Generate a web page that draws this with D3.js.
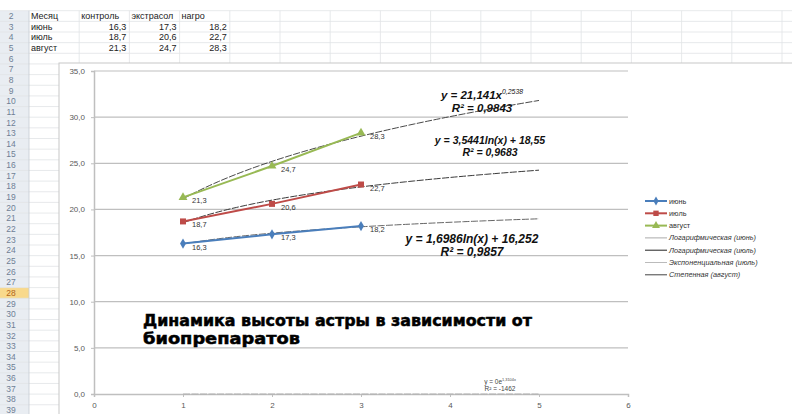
<!DOCTYPE html>
<html>
<head>
<meta charset="utf-8">
<script src="https://cdn.jsdelivr.net/npm/d3@7"></script>
<style>
  body { margin: 0; background: #fff; }
  svg { display: block; }
</style>
</head>
<body>
<div id="svg-container"></div>
<script>
// ---- data ----
const months = ["июнь", "июль", "август"];
const treatments = ["контроль", "экстрасол", "нагро"];
const xValues = [1, 2, 3];
const juneValues = [16.3, 17.3, 18.2];
const julyValues = [18.7, 20.6, 22.7];
const augustValues = [21.3, 24.7, 28.3];
const yTicks = [0, 5, 10, 15, 20, 25, 30, 35];
const xTicks = [0, 1, 2, 3, 4, 5, 6];

// trendlines as excel printed them
const trendNames = ["Логарифмическая (июнь)", "Логарифмическая (июль)", "Экспоненциальная (июль)", "Степенная (август)"];
const trendTypes = ["log", "log", "exp", "power"];
const trendCoefs = [[1.6986, 16.252], [3.5441, 18.55], [0, 1.3104], [21.141, 0.2538]];
const trendRange = [1, 5];
const trendEq = [
  ["y = 1,6986ln(x) + 16,252", ""],
  ["y = 3,5441ln(x) + 18,55", ""],
  ["y = 0e", "1,3104x"],
  ["y = 21,141x", "0,2538"]
];
const trendR2 = ["R² = 0,9857", "R² = 0,9683", "R² = -1462", "R² = 0,9843"];

const title = ["Динамика высоты астры в зависимости от", "биопрепаратов"];

const width = 792;
const height = 414;

const SERIES_COLORS = ["#4a7ebb", "#be4b48", "#98b954"];
const GRID_COLOR = "#bfbfbf";
const CELL_LINE = "#e1e3e6";
const LABEL_COLOR = "#595959";

const ROW_H = 10.65;
const ROW_TOP = 10.7; // top of row 2
const COL_W = 50.2;
const COL_X0 = 29;
const FIRST_ROW = 2, LAST_ROW = 39;
const HIGHLIGHT_ROW = 28;

const svg = d3
  .select("#svg-container")
  .append("svg")
  .attr("width", width)
  .attr("height", height)
  .style("font-family", "'Liberation Sans', Arial, sans-serif");

// ---------- spreadsheet background ----------
const rows = d3.range(FIRST_ROW, LAST_ROW + 1);
const rowY = (n) => ROW_TOP + (n - FIRST_ROW) * ROW_H;
const colX = (i) => COL_X0 + i * COL_W;

const sheet = svg.append("g");

// header column
sheet.append("rect")
  .attr("x", 0).attr("y", ROW_TOP)
  .attr("width", COL_X0).attr("height", height - ROW_TOP)
  .attr("fill", "#e9edf2");

sheet.selectAll("rect.hl")
  .data([HIGHLIGHT_ROW])
  .enter().append("rect")
  .attr("x", 0).attr("y", (d) => rowY(d))
  .attr("width", COL_X0).attr("height", ROW_H)
  .attr("fill", "#f8d98c");

// cell lines
sheet.selectAll("line.row")
  .data(d3.range(FIRST_ROW, LAST_ROW + 2))
  .enter().append("line")
  .attr("x1", 0).attr("x2", width)
  .attr("y1", (d) => rowY(d)).attr("y2", (d) => rowY(d))
  .attr("stroke", CELL_LINE).attr("stroke-width", 0.8);

sheet.selectAll("line.col")
  .data(d3.range(0, 16))
  .enter().append("line")
  .attr("x1", (d) => colX(d)).attr("x2", (d) => colX(d))
  .attr("y1", ROW_TOP).attr("y2", height)
  .attr("stroke", (d) => d === 0 ? "#c5cbd3" : CELL_LINE)
  .attr("stroke-width", 0.8);

sheet.selectAll("text.rownum")
  .data(rows)
  .enter().append("text")
  .attr("x", 11).attr("y", (d) => rowY(d) + ROW_H / 2 + 3)
  .attr("text-anchor", "middle")
  .style("font-size", "8.5px")
  .style("fill", (d) => d === HIGHLIGHT_ROW ? "#b0651c" : "#6f7f95")
  .text((d) => d);

// table cells
const defs = svg.append("defs");
d3.range(0, 4).forEach((i) => {
  defs.append("clipPath").attr("id", "col-clip-" + i)
    .append("rect")
    .attr("x", colX(i)).attr("y", 0)
    .attr("width", COL_W - 1).attr("height", height);
});

const cellText = (row, col, txt, anchor) => {
  sheet.append("text")
    .attr("clip-path", `url(#col-clip-${col})`)
    .attr("x", anchor === "end" ? colX(col + 1) - 3 : colX(col) + 2)
    .attr("y", rowY(row) + ROW_H / 2 + 3)
    .attr("text-anchor", anchor)
    .style("font-size", "9px")
    .style("fill", "#222")
    .text(txt);
};

cellText(2, 0, "Месяц", "start");
treatments.forEach((t, i) => cellText(2, i + 1, t, "start"));
const tableValues = [juneValues, julyValues, augustValues];
months.forEach((m, r) => {
  cellText(3 + r, 0, m, "start");
  tableValues[r].forEach((v, c) => cellText(3 + r, c + 1, d3.format(".1f")(v).replace(".", ","), "end"));
});

// ---------- chart object ----------
const chart = svg.append("g");
chart.append("rect")
  .attr("x", 59).attr("y", 63)
  .attr("width", 760).attr("height", 380)
  .attr("fill", "#fff")
  .attr("stroke", "#c8c8c8").attr("stroke-width", 1);

const xScale = d3.scaleLinear().domain([0, 6]).range([94, 628]);
const yScale = d3.scaleLinear().domain([0, 35]).range([394, 71]);
const comma = (v) => d3.format(".1f")(v).replace(".", ",");

// gridlines
chart.append("g")
  .selectAll("line")
  .data(yTicks.filter((d) => d > 0))
  .enter().append("line")
  .attr("x1", xScale(0)).attr("x2", xScale(6))
  .attr("y1", (d) => yScale(d)).attr("y2", (d) => yScale(d))
  .attr("stroke", GRID_COLOR).attr("stroke-width", 1.2);

// y axis
const yAxis = chart.append("g")
  .attr("transform", `translate(${xScale(0)},0)`)
  .call(d3.axisLeft(yScale).tickValues(yTicks).tickFormat(comma).tickSize(3).tickPadding(6));
// x axis
const xAxis = chart.append("g")
  .attr("transform", `translate(0,${yScale(0)})`)
  .call(d3.axisBottom(xScale).tickValues(xTicks).tickFormat(d3.format("d")).tickSize(3).tickPadding(5));

[yAxis, xAxis].forEach((ax) => {
  ax.select(".domain").attr("stroke", GRID_COLOR).attr("stroke-width", 1.5);
  ax.selectAll(".tick line").attr("stroke", GRID_COLOR);
  ax.selectAll(".tick text")
    .style("font-size", "8px")
    .style("font-family", "'Liberation Sans', Arial, sans-serif")
    .style("fill", LABEL_COLOR);
});

// title
chart.append("g")
  .selectAll("text")
  .data(title)
  .enter().append("text")
  .attr("x", 143)
  .attr("y", (d, i) => 326 + i * 18)
  .attr("textLength", (d, i) => i === 0 ? 389 : 157)
  .attr("lengthAdjust", "spacingAndGlyphs")
  .style("font-family", "'DejaVu Sans', sans-serif")
  .style("font-weight", "bold")
  .style("font-size", "15px")
  .style("fill", "#000")
  .style("stroke", "#000")
  .style("stroke-width", 0.5)
  .text((d) => d);

// trendlines
const trendFn = (type, c) => {
  if (type === "log") return (x) => c[0] * Math.log(x) + c[1];
  if (type === "exp") return (x) => c[0] * Math.exp(c[1] * x);
  return (x) => c[0] * Math.pow(x, c[1]);
};
const trendLine = d3.line()
  .x((d) => xScale(d[0]))
  .y((d) => yScale(d[1]));
const trendColors = ["#555", "#222", "#aaa", "#333"];

trendTypes.forEach((type, i) => {
  const f = trendFn(type, trendCoefs[i]);
  const pts = d3.range(trendRange[0], trendRange[1] + 0.001, 0.05).map((x) => [x, f(x)]);
  chart.append("path")
    .attr("d", trendLine(pts))
    .attr("fill", "none")
    .attr("stroke", trendColors[i])
    .attr("stroke-width", 0.9)
    .attr("stroke-dasharray", "7,1.5");
});

// series
const seriesValues = [juneValues, julyValues, augustValues];
const seriesLine = d3.line()
  .x((d, i) => xScale(xValues[i]))
  .y((d) => yScale(d));
const symbols = [d3.symbolDiamond, d3.symbolSquare, d3.symbolTriangle];
const symbolSizes = [30, 36, 34];

seriesValues.forEach((vals, s) => {
  const g = chart.append("g");
  g.append("path")
    .attr("d", seriesLine(vals))
    .attr("fill", "none")
    .attr("stroke", SERIES_COLORS[s])
    .attr("stroke-width", 2);
  g.selectAll("path.mark")
    .data(vals)
    .enter().append("path")
    .attr("d", d3.symbol().type(symbols[s]).size(symbolSizes[s]))
    .attr("transform", (d, i) => `translate(${xScale(xValues[i])},${yScale(d)})`)
    .attr("fill", SERIES_COLORS[s]);
  g.selectAll("text")
    .data(vals)
    .enter().append("text")
    .attr("x", (d, i) => xScale(xValues[i]) + 9)
    .attr("y", (d) => yScale(d) + 6)
    .style("font-size", "7.5px")
    .style("fill", "#333")
    .text((d) => comma(d));
});

// trendline equations
const eqPos = [[472, 243, 12], [490, 144, 10.5], [500, 384, 6.5], [482, 99, 11.5]];
trendEq.forEach((eq, i) => {
  const [cx, cy, fs] = eqPos[i];
  const g = chart.append("g")
    .style("font-weight", i === 2 ? "normal" : "bold")
    .style("font-style", i === 2 ? "normal" : "italic")
    .style("fill", i === 2 ? "#444" : "#111");
  const t = g.append("text")
    .attr("x", cx).attr("y", cy)
    .attr("text-anchor", "middle")
    .style("font-size", fs + "px");
  t.append("tspan").text(eq[0]);
  if (eq[1]) {
    t.append("tspan")
      .attr("dy", -fs * 0.4)
      .style("font-size", (fs * 0.6) + "px")
      .style("font-weight", "normal")
      .text(eq[1]);
  }
  g.append("text")
    .attr("x", cx).attr("y", cy + fs * 1.1)
    .attr("text-anchor", "middle")
    .style("font-size", fs + "px")
    .text(trendR2[i]);
});

// legend
const legendItems = months.map((m, i) => ({ name: m, color: SERIES_COLORS[i], symbol: symbols[i], size: symbolSizes[i], trend: false }))
  .concat(trendNames.map((n, i) => ({ name: n, color: ["#aaa", "#222", "#bbb", "#444"][i], trend: true })));

const legend = chart.append("g").attr("transform", "translate(645,201)");
const li = legend.selectAll("g")
  .data(legendItems)
  .enter().append("g")
  .attr("transform", (d, i) => `translate(0,${i * 12.3})`);
li.append("line")
  .attr("x1", 0).attr("x2", 22)
  .attr("stroke", (d) => d.color)
  .attr("stroke-width", (d) => d.trend ? 1 : 2);
li.filter((d) => !d.trend)
  .append("path")
  .attr("d", (d) => d3.symbol().type(d.symbol).size(d.size * 0.8)())
  .attr("transform", "translate(11,0)")
  .attr("fill", (d) => d.color);
li.append("text")
  .attr("x", 24).attr("y", 2.5)
  .style("font-size", "7.3px")
  .style("font-style", (d) => d.trend ? "italic" : "normal")
  .style("fill", "#333")
  .text((d) => d.name);
</script>
</body>
</html>
